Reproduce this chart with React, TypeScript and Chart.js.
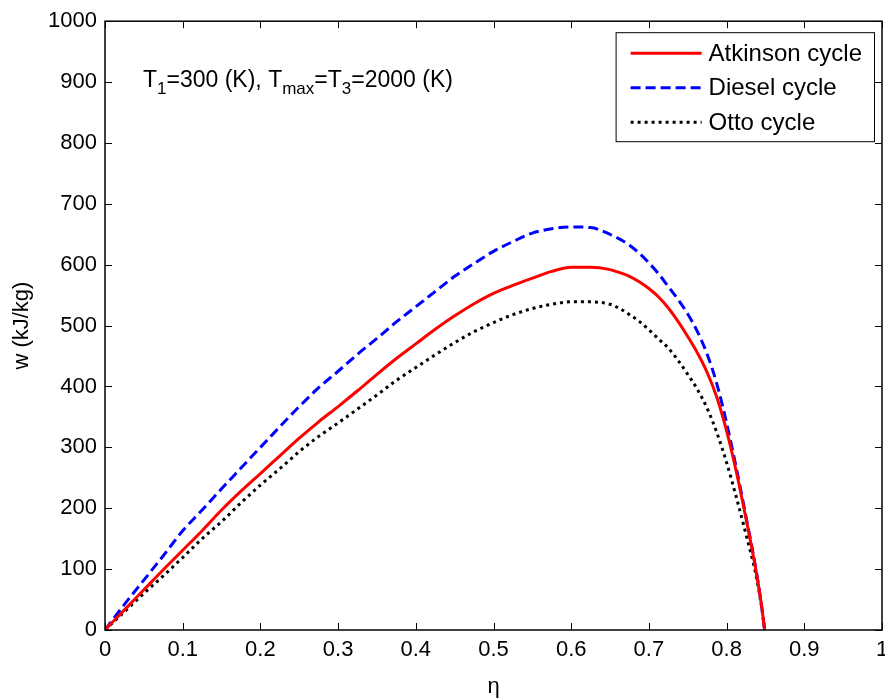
import React, { useEffect, useRef } from 'react';
import { Chart, registerables } from 'chart.js';

Chart.register(...registerables);

const eta = [0, 0.025, 0.05, 0.075, 0.1, 0.125, 0.15, 0.175, 0.2, 0.225, 0.25, 0.275, 0.3, 0.325, 0.35, 0.375, 0.4, 0.425, 0.45, 0.475, 0.5, 0.525, 0.55, 0.575, 0.6, 0.625, 0.65, 0.6625, 0.675, 0.6875, 0.7, 0.7125, 0.725, 0.7375, 0.75, 0.7625, 0.775, 0.7875, 0.8, 0.8125, 0.825, 0.8375, 0.845, 0.849];
const atkinson = [0, 33, 66, 99, 131, 163, 197, 228, 257, 286, 315, 342, 367, 393, 420, 446, 470, 494, 516, 536, 553, 566, 578, 589, 596, 596, 592, 587, 581, 572, 561, 547, 529, 507, 482, 455, 423, 382, 327, 260, 183, 100, 40, 0];
const diesel = [0, 42, 82, 122, 163, 197, 232, 266, 300, 334, 367, 398, 425, 453, 479, 506, 531, 556, 581, 602, 622, 638, 652, 659, 662, 661, 650, 642, 632, 619, 603, 585, 564, 543, 519, 490, 453, 404, 340, 266, 186, 102, 40, 0];
const otto = [0, 30, 60, 89, 119, 150, 178, 209, 238, 265, 293, 318, 340, 363, 386, 410, 431, 452, 472, 490, 505, 518, 528, 535, 539, 539, 535, 528, 518, 507, 493, 478, 463, 443, 420, 395, 364, 324, 275, 218, 157, 92, 38, 0];

const seriesNames = ['Atkinson cycle', 'Diesel cycle', 'Otto cycle'];
const xTicks = [0, 0.1, 0.2, 0.3, 0.4, 0.5, 0.6, 0.7, 0.8, 0.9, 1];
const yTicks = [0, 100, 200, 300, 400, 500, 600, 700, 800, 900, 1000];
const xTitle = 'η';
const yTitle = 'w (kJ/kg)';
const noteParts: [string, boolean][] = [
  ['T', false], ['1', true], ['=300 (K), T', false], ['max', true], ['=T', false], ['3', true], ['=2000 (K)', false],
];

const FONT = '"Liberation Sans", Arial, sans-serif';

const framePlugin = {
  id: 'frame',
  afterDatasetsDraw(chart: any) {
    const { ctx, chartArea, scales } = chart;
    const { left, right, top, bottom } = chartArea;
    const L = 7;
    ctx.save();
    ctx.strokeStyle = '#000';
    ctx.lineWidth = 1;
    ctx.beginPath();
    xTicks.forEach((v) => {
      const px = Math.round(scales.x.getPixelForValue(v)) + 0.5;
      ctx.moveTo(px, bottom);
      ctx.lineTo(px, bottom - L);
      ctx.moveTo(px, top);
      ctx.lineTo(px, top + L);
    });
    yTicks.forEach((v) => {
      const py = Math.round(scales.y.getPixelForValue(v)) + 0.5;
      ctx.moveTo(left, py);
      ctx.lineTo(left + L, py);
      ctx.moveTo(right, py);
      ctx.lineTo(right - L, py);
    });
    ctx.stroke();
    ctx.lineWidth = 1.5;
    ctx.strokeRect(left, top, right - left, bottom - top);
    ctx.restore();
  },
};

const legendPlugin = {
  id: 'boxLegend',
  afterDraw(chart: any) {
    const { ctx, chartArea } = chart;
    ctx.save();
    ctx.font = `24px ${FONT}`;
    const sets = chart.data.datasets;
    let maxW = 0;
    sets.forEach((d: any) => { maxW = Math.max(maxW, ctx.measureText(d.label).width); });
    const sample = 71;
    const padL = 15, gap = 7, padR = 12;
    const w = padL + sample + gap + maxW + padR;
    const rowH = 34.5;
    const h = 109;
    const x0 = chartArea.right - 8 - w;
    const y0 = chartArea.top + 11;
    ctx.fillStyle = '#fff';
    ctx.fillRect(x0, y0, w, h);
    ctx.strokeStyle = '#000';
    ctx.lineWidth = 1;
    ctx.strokeRect(x0 + 0.5, y0 + 0.5, w, h);
    sets.forEach((d: any, i: number) => {
      const cy = y0 + 21 + i * rowH;
      ctx.beginPath();
      ctx.strokeStyle = d.borderColor;
      ctx.lineWidth = d.borderWidth;
      ctx.setLineDash(d.borderDash || []);
      ctx.moveTo(x0 + padL, cy);
      ctx.lineTo(x0 + padL + sample, cy);
      ctx.stroke();
      ctx.setLineDash([]);
      ctx.fillStyle = '#000';
      ctx.textAlign = 'left';
      ctx.textBaseline = 'middle';
      ctx.fillText(d.label, x0 + padL + sample + gap, cy + 1);
    });
    ctx.restore();
  },
};

const notePlugin = {
  id: 'note',
  afterDraw(chart: any) {
    const { ctx, chartArea } = chart;
    ctx.save();
    ctx.fillStyle = '#000';
    ctx.textAlign = 'left';
    ctx.textBaseline = 'alphabetic';
    let x = chartArea.left + 38;
    const base = chartArea.top + 66;
    noteParts.forEach(([t, sub]) => {
      ctx.font = sub ? `17px ${FONT}` : `23px ${FONT}`;
      ctx.fillText(t, x, sub ? base + 7 : base);
      x += ctx.measureText(t).width;
    });
    ctx.restore();
  },
};

export default function App() {
  const ref = useRef<HTMLCanvasElement | null>(null);
  useEffect(() => {
    if (!ref.current) return;
    const mk = (vals: number[]) => eta.map((e, i) => ({ x: e, y: vals[i] }));
    const chart = new Chart(ref.current, {
      type: 'line',
      data: {
        datasets: [
          { label: seriesNames[0], data: mk(atkinson), borderColor: '#ff0000', borderWidth: 3, pointRadius: 0, fill: false, cubicInterpolationMode: 'monotone' },
          { label: seriesNames[1], data: mk(diesel), borderColor: '#0000ff', borderWidth: 3, borderDash: [10, 5], pointRadius: 0, fill: false, cubicInterpolationMode: 'monotone' },
          { label: seriesNames[2], data: mk(otto), borderColor: '#000000', borderWidth: 3, borderDash: [3, 4], pointRadius: 0, fill: false, cubicInterpolationMode: 'monotone' },
        ] as any,
      },
      options: {
        responsive: false,
        animation: false,
        devicePixelRatio: 1,
        layout: { padding: { top: 21, right: 3, left: 0, bottom: 0 } },
        plugins: { legend: { display: false }, tooltip: { enabled: false } },
        scales: {
          x: {
            type: 'linear',
            min: 0,
            max: 1,
            afterBuildTicks: (s: any) => { s.ticks = xTicks.map((v) => ({ value: v })); },
            afterFit: (s: any) => { s.height = 70; s.paddingLeft = 0; s.paddingRight = 0; },
            grid: { display: false, drawTicks: false },
            border: { display: false },
            ticks: {
              color: '#000',
              font: { family: FONT, size: 22 },
              padding: 7,
              callback: (v: any) => String(Number(Number(v).toFixed(1))),
            },
            title: { display: true, text: xTitle, color: '#000', font: { family: FONT, size: 22, lineHeight: 1 }, padding: { top: 0, bottom: 2 } },
          },
          y: {
            type: 'linear',
            min: 0,
            max: 1000,
            afterBuildTicks: (s: any) => { s.ticks = yTicks.map((v) => ({ value: v })); },
            afterFit: (s: any) => { s.width = 105; },
            grid: { display: false, drawTicks: false },
            border: { display: false },
            ticks: { color: '#000', font: { family: FONT, size: 22 }, padding: 8, callback: (v: any) => String(v) },
            title: { display: true, text: yTitle, color: '#000', font: { family: FONT, size: 22, lineHeight: 1 }, padding: { top: 11, bottom: 0 } },
          },
        },
      },
      plugins: [framePlugin, legendPlugin, notePlugin],
    });
    return () => chart.destroy();
  }, []);
  return (
    <div style={{ position: 'absolute', left: 0, top: 0, width: 885, height: 700, background: '#fff' }}>
      <canvas ref={ref} width={885} height={700} />
    </div>
  );
}
